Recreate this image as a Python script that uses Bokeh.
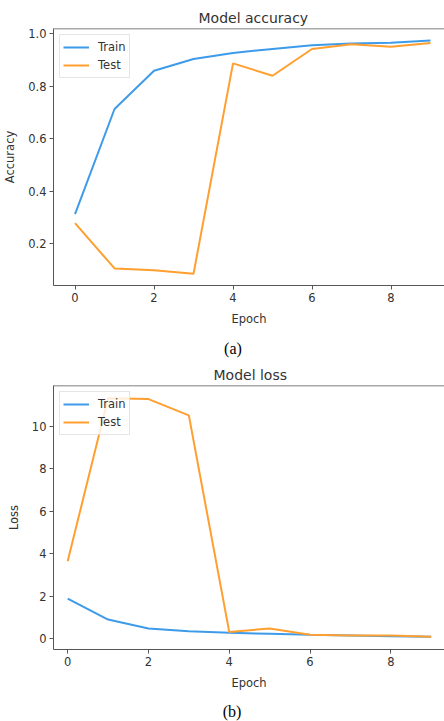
from bokeh.plotting import figure
from bokeh.layouts import column
from bokeh.models import FixedTicker, Range1d, Legend, LegendItem, Span, Label
from bokeh.embed import file_html
from bokeh.resources import INLINE

epochs = [0, 1, 2, 3, 4, 5, 6, 7, 8, 9]
acc_train = [0.312, 0.713, 0.859, 0.904, 0.927, 0.942, 0.956, 0.963, 0.966, 0.974]
acc_test = [0.278, 0.105, 0.098, 0.085, 0.887, 0.840, 0.942, 0.960, 0.950, 0.965]
loss_train = [1.88, 0.89, 0.47, 0.34, 0.27, 0.22, 0.17, 0.14, 0.11, 0.08]
loss_test = [3.64, 11.32, 11.28, 10.51, 0.31, 0.47, 0.18, 0.14, 0.14, 0.08]
x_ticks = [0, 2, 4, 6, 8]
acc_ticks = [0.2, 0.4, 0.6, 0.8, 1.0]
acc_tick_labels = ["0.2", "0.4", "0.6", "0.8", "1.0"]
loss_ticks = [0, 2, 4, 6, 8, 10]
loss_tick_labels = ["0", "2", "4", "6", "8", "10"]

BLUE = "#3d9be9"
ORANGE = "#ff9f2f"
FONT = "DejaVu Sans"
SPINE = "#555555"
LEFT = 50  # shared left border (column aligns plot frames)


def make_fig(title, title_off, ylabel, train, test, yticks, ylabels,
             xr, yr, h, mt, mb):
    p = figure(width=444, height=h, x_range=Range1d(*xr), y_range=Range1d(*yr),
               output_backend="svg", toolbar_location=None, min_border=0,
               min_border_left=LEFT, min_border_right=0, min_border_top=mt,
               min_border_bottom=mb)
    p.title.text = title
    p.title.text_font = FONT
    p.title.text_font_size = "14px"
    p.title.text_font_style = "normal"
    p.title.text_color = "#333333"
    p.title.align = "left"
    p.title.offset = title_off
    p.title.standoff = 6
    p.xgrid.grid_line_color = None
    p.ygrid.grid_line_color = None
    p.outline_line_color = None
    for ax in (p.xaxis[0], p.yaxis[0]):
        ax.axis_line_color = SPINE
        ax.axis_line_width = 1
        ax.major_tick_out = 4
        ax.major_tick_in = 0
        ax.minor_tick_out = 0
        ax.minor_tick_in = 0
        ax.major_tick_line_color = SPINE
        ax.major_label_text_font = FONT
        ax.major_label_text_font_size = "11.5px"
        ax.major_label_text_color = "#333333"
        ax.major_label_standoff = 3
        ax.axis_label_text_font = FONT
        ax.axis_label_text_font_size = "11.5px"
        ax.axis_label_text_font_style = "normal"
        ax.axis_label_text_color = "#333333"
        ax.axis_label_standoff = 7
    p.yaxis.axis_label_standoff = 8
    p.xaxis.ticker = FixedTicker(ticks=x_ticks, minor_ticks=[])
    p.yaxis.ticker = FixedTicker(ticks=yticks, minor_ticks=[])
    p.yaxis.major_label_overrides = {t: l for t, l in zip(yticks, ylabels)}
    p.xaxis.axis_label = "Epoch"
    p.yaxis.axis_label = ylabel
    p.add_layout(Span(location=yr[1], dimension="width", line_color=SPINE, line_width=1.5))
    r1 = p.line(epochs, train, line_color=BLUE, line_width=2)
    r2 = p.line(epochs, test, line_color=ORANGE, line_width=2)
    legend = Legend(items=[LegendItem(label="Train", renderers=[r1]),
                           LegendItem(label="Test", renderers=[r2])],
                    location="top_left", margin=6, padding=3, spacing=0,
                    glyph_width=26, glyph_height=18, label_height=18,
                    label_standoff=9, label_text_font=FONT,
                    label_text_font_size="11.5px", label_text_color="#333333",
                    border_line_color="#cccccc", background_fill_alpha=0.8)
    p.add_layout(legend)
    return p


def make_caption(text, h, cx):
    c = figure(width=444, height=h, x_range=Range1d(0, 444 - LEFT), y_range=Range1d(0, h),
               output_backend="svg", toolbar_location=None, min_border=0,
               min_border_left=LEFT, min_border_right=0)
    c.axis.visible = False
    c.xgrid.grid_line_color = None
    c.ygrid.grid_line_color = None
    c.outline_line_color = None
    c.add_layout(Label(x=cx - LEFT, y=h / 2, x_units="screen", y_units="screen", text=text,
                       text_align="center", text_baseline="middle",
                       text_font="Liberation Serif", text_font_size="16px",
                       text_color="#000000"))
    return c


p1 = make_fig("Model accuracy", 145, "Accuracy", acc_train, acc_test,
              acc_ticks, acc_tick_labels, (-0.545, 9.354), (0.04, 1.02),
              336, 28, 51)
c1 = make_caption("(a)", 24, 229.5)
p2 = make_fig("Model loss", 160, "Loss", loss_train, loss_test,
              loss_ticks, loss_tick_labels, (-0.351, 9.33), (-0.52, 11.92),
              340, 25, 51)
c2 = make_caption("(b)", 21, 228.5)

layout = column(p1, c1, p2, c2, spacing=0)
open("out.html", "w").write(file_html(layout, INLINE))
